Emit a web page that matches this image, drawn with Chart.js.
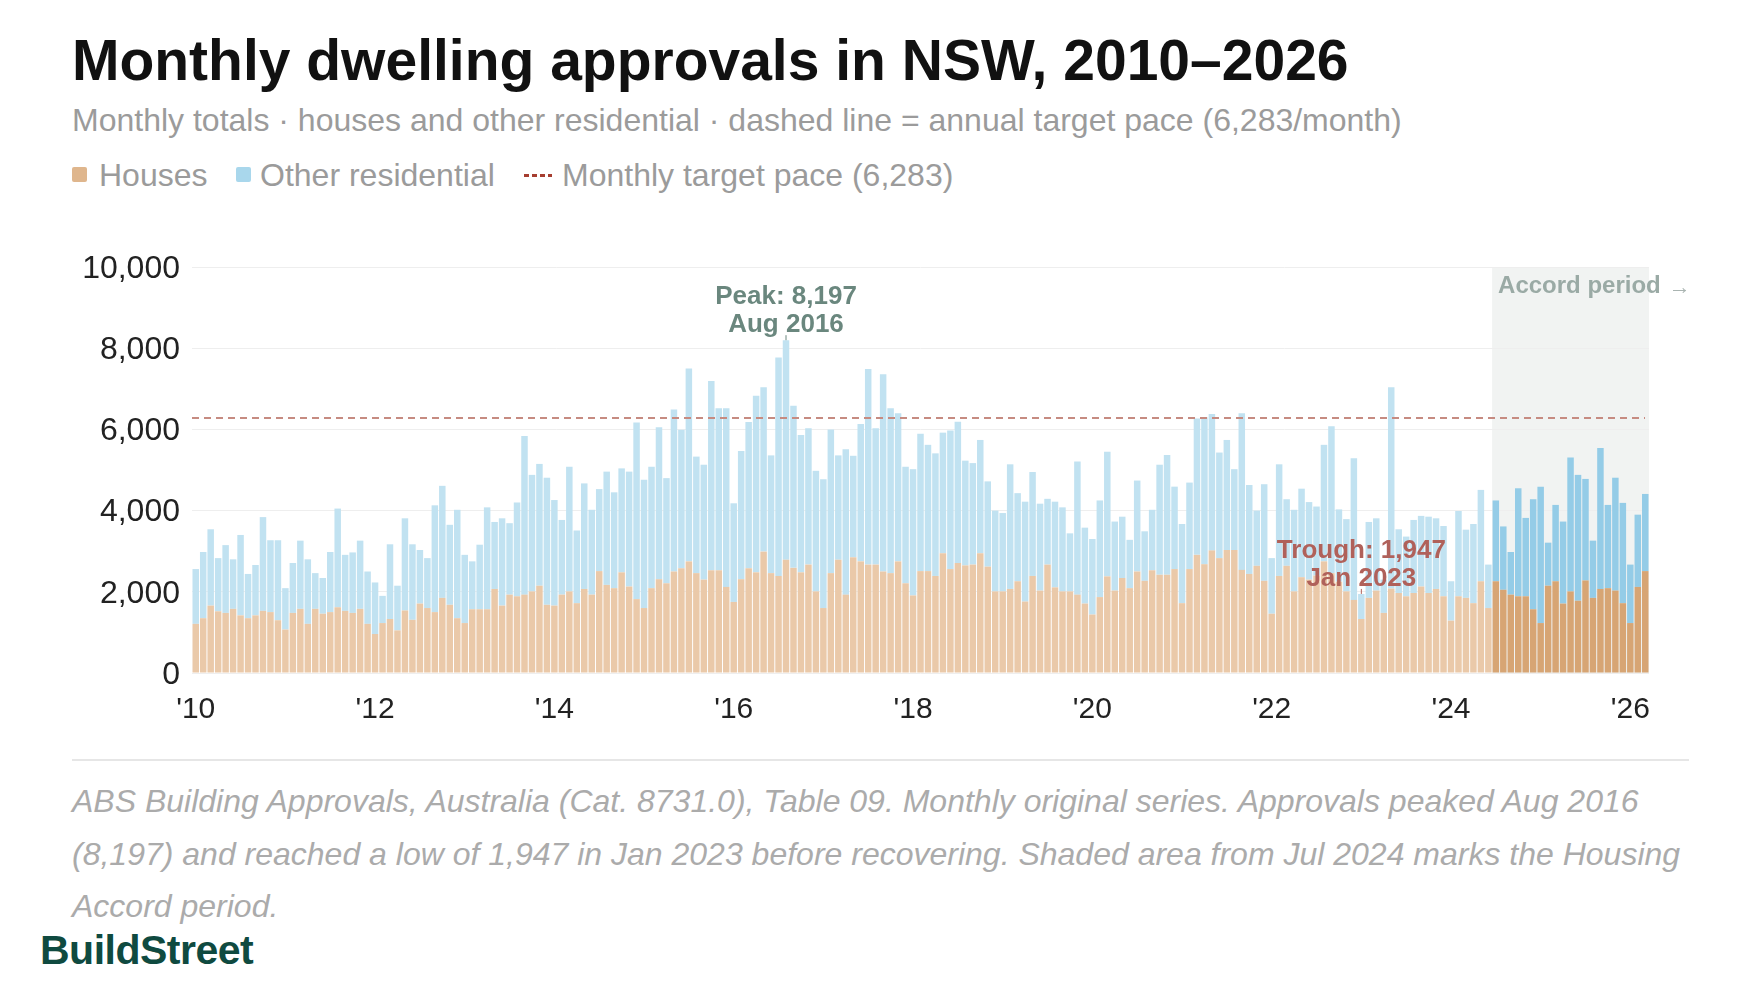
<!DOCTYPE html>
<html lang="en">
<head>
<meta charset="utf-8">
<title>Monthly dwelling approvals in NSW, 2010–2026</title>
<script src="https://cdn.jsdelivr.net/npm/chart.js@4.4.1/dist/chart.umd.min.js"></script>
<style>
  html, body { margin: 0; padding: 0; background: #fff; }
  body { width: 1760px; height: 1000px; position: relative; overflow: hidden;
         font-family: "Liberation Sans", Arial, Helvetica, sans-serif; }
  .title { position: absolute; left: 72px; top: 32px; font-size: 57px; font-weight: bold;
           line-height: 1; color: #111; white-space: nowrap; }
  .subtitle { position: absolute; left: 72px; top: 104px; font-size: 32px; line-height: 1;
              color: #9b9b9b; white-space: nowrap; }
  .legend { position: absolute; left: 0; top: 159px; width: 1760px; height: 34px;
            font-size: 32px; line-height: 1; color: #9b9b9b; }
  .legend span { position: absolute; top: 0; white-space: nowrap; }
  .legend .sw { width: 15px; height: 15px; top: 8px; border-radius: 2px; }
  .legend .dash { width: 28px; height: 3px; top: 15px;
                  background: repeating-linear-gradient(90deg, #a63e30 0 5px, transparent 5px 8px); }
  #chartBox { position: absolute; left: 0; top: 200px; width: 1760px; height: 540px; }
  .rule { position: absolute; left: 72px; top: 759px; width: 1617px; height: 2px; background: #e6e6e6; }
  .note { position: absolute; left: 72px; top: 775px; width: 1618px; font-size: 32px;
          line-height: 52.5px; font-style: italic; color: #ababab; }
  .brand { position: absolute; left: 40px; top: 930px; font-size: 41px; font-weight: bold;
           line-height: 1; color: #0f4a40; letter-spacing: -0.5px; }
</style>
</head>
<body>
<div class="title">Monthly dwelling approvals in NSW, 2010–2026</div>
<div class="subtitle">Monthly totals · houses and other residential · dashed line = annual target pace (6,283/month)</div>
<div class="legend">
  <span class="sw" style="left:72px;background:#dfb68d"></span>
  <span style="left:99px">Houses</span>
  <span class="sw" style="left:236px;background:#a9d7ec"></span>
  <span style="left:260px">Other residential</span>
  <span class="dash" style="left:524px"></span>
  <span style="left:562px">Monthly target pace (6,283)</span>
</div>
<div id="chartBox"><canvas id="approvalsChart"></canvas></div>
<div class="rule"></div>
<div class="note">ABS Building Approvals, Australia (Cat. 8731.0), Table 09. Monthly original series. Approvals peaked Aug 2016 (8,197) and reached a low of 1,947 in Jan 2023 before recovering. Shaded area from Jul 2024 marks the Housing Accord period.</div>
<div class="brand">BuildStreet</div>

<script>
const FONT = '"Liberation Sans", Arial, Helvetica, sans-serif';

// monthly approvals, Jan 2010 - Mar 2026 (one row per year)
const houses = [
  1210,1350,1660,1520,1480,1580,1420,1350,1420,1530,1500,1300,
  1070,1480,1580,1210,1580,1460,1500,1620,1530,1480,1580,1210,
  960,1230,1330,1050,1540,1310,1710,1600,1500,1850,1680,1350,
  1230,1570,1570,1570,2070,1660,1930,1890,1930,2010,2150,1680,
  1660,1930,2010,1720,2070,1930,2510,2170,2090,2480,2130,1820,
  1600,2090,2310,2210,2500,2580,2750,2460,2300,2530,2530,2120,
  1750,2310,2580,2480,2990,2460,2390,2790,2590,2480,2670,2010,
  1600,2460,2790,1930,2850,2750,2670,2670,2500,2460,2750,2210,
  1910,2510,2510,2390,2950,2560,2710,2650,2670,2950,2620,2010,
  2010,2070,2260,1760,2390,2030,2670,2110,2010,2010,1930,1710,
  1440,1870,2380,2030,2340,2090,2500,2270,2530,2420,2420,2560,
  1720,2560,2910,2680,3020,2830,3030,3030,2540,2440,2640,2270,
  1460,2390,2640,2010,2360,2300,2400,2750,2460,2250,2010,1800,
  1330,1850,2030,1480,2080,1970,1890,1970,2130,1970,2070,1890,
  1290,1890,1850,1720,2260,1600,2260,2050,1930,1890,1890,1570,
  1230,2150,2260,1710,2010,1780,2280,1850,2070,2090,2030,1720,
  1230,2120,2510
];

const otherRes = [
  1350,1630,1880,1310,1670,1220,1980,1090,1240,2310,1770,1970,
  1020,1230,1680,1590,880,880,1480,2430,1380,1490,1680,1290,
  1270,670,1840,1100,2270,1860,1320,1230,2630,2760,1970,2670,
  1680,1180,1590,2510,1650,2150,1760,2310,3910,2870,3000,3130,
  2600,1840,3070,1790,2600,2090,2020,2790,2360,2560,2830,4350,
  3160,2990,3740,2590,3990,3410,4750,2870,2830,4660,3990,4400,
  2430,3160,3600,4350,4050,2900,5380,5407,3990,3380,3360,2970,
  3170,3540,2570,3580,2500,3380,4820,3360,4860,4060,3650,2870,
  3110,3380,3110,3020,2970,3410,3480,2580,2500,2790,2100,1990,
  1930,3070,2170,2460,2560,2140,1620,2110,2070,1430,3280,1870,
  1860,2380,3070,1700,1510,1190,2240,1220,1490,2710,2950,2030,
  1950,2130,3360,3620,3360,2600,2710,1990,3860,2190,1360,2380,
  1370,2750,1640,2010,2180,1910,1700,2870,3620,1780,1780,3490,
  617,1870,1780,820,4960,1570,1470,1800,1740,1880,1740,1730,
  970,2100,1680,1950,2250,1070,1990,1560,1050,2660,1930,2710,
  3360,1060,1880,2020,3300,3100,2500,1410,3470,2050,2780,2470,
  1440,1780,1900
];

const startYear = 2010;
const targetPace = 6283;
const accordStart = '2024-07';

const tickMonths = ['2010-01','2012-01','2014-01','2016-01','2018-01','2020-01','2022-01','2024-01','2026-01'];
const tickLabels = ["'10","'12","'14","'16","'18","'20","'22","'24","'26"];
const yTicks = [0, 2000, 4000, 6000, 8000, 10000];

const noteMonths = ['2016-08', '2023-01'];
const noteLines = [['Peak: 8,197', 'Aug 2016'], ['Trough: 1,947', 'Jan 2023']];
const noteColors = ['#6a877e', '#b0615a'];

//build the month categories
const months = [];
for (let i = 0; i < houses.length; i++) {
    const yr = startYear + Math.floor(i / 12);
    const mo = (i % 12) + 1;
    months.push(yr + '-' + String(mo).padStart(2, '0'));
}

const accordIdx = months.indexOf(accordStart);
const houseColors = months.map((m, i) => i >= accordIdx ? '#d7a574' : '#eac9a9');
const otherColors = months.map((m, i) => i >= accordIdx ? '#94cce7' : '#c1e2f1');

//light panel behind the Accord months
const accordShade = {
    id: 'accordShade',
    beforeDraw(chart) {
        const { ctx, chartArea, scales: { x } } = chart;
        const half = (x.getPixelForValue(1) - x.getPixelForValue(0)) / 2;
        const left = x.getPixelForValue(accordIdx) - half;
        ctx.save();
        ctx.fillStyle = '#f1f3f2';
        ctx.fillRect(left, chartArea.top, chartArea.right - left, chartArea.bottom - chartArea.top);
        ctx.restore();
    }
};

//target line, peak/trough notes and the Accord label
const overlays = {
    id: 'overlays',
    afterDatasetsDraw(chart) {
        const { ctx, chartArea, scales: { x, y } } = chart;
        ctx.save();

        const ty = y.getPixelForValue(targetPace);
        ctx.strokeStyle = '#c68b81';
        ctx.lineWidth = 2;
        ctx.setLineDash([7, 5]);
        ctx.beginPath();
        ctx.moveTo(chartArea.left, ty);
        ctx.lineTo(chartArea.right - 4, ty);
        ctx.stroke();
        ctx.setLineDash([]);

        noteMonths.forEach((m, k) => {
            const i = months.indexOf(m);
            const px = x.getPixelForValue(i);
            const top = y.getPixelForValue(houses[i] + otherRes[i]);
            ctx.fillStyle = noteColors[k];
            ctx.strokeStyle = noteColors[k];
            ctx.font = 'bold 26px ' + FONT;
            ctx.textAlign = 'center';
            ctx.textBaseline = 'middle';
            ctx.fillText(noteLines[k][0], px, top - 43);
            ctx.fillText(noteLines[k][1], px, top - 15);
            ctx.lineWidth = 1;
            ctx.beginPath();
            ctx.moveTo(px, top - 5);
            ctx.lineTo(px, top);
            ctx.stroke();
        });

        const half = (x.getPixelForValue(1) - x.getPixelForValue(0)) / 2;
        const lx = x.getPixelForValue(accordIdx) - half + 6;
        const ly = chartArea.top + 19;
        ctx.textAlign = 'left';
        ctx.textBaseline = 'middle';
        ctx.font = 'bold 24px ' + FONT;
        ctx.fillStyle = '#9aaaa5';
        ctx.fillText('Accord period', lx, ly);
        const w = ctx.measureText('Accord period').width;
        ctx.font = '22px ' + FONT;
        ctx.fillStyle = '#a9b4b1';
        ctx.fillText('→', lx + w + 8, ly + 2);

        ctx.restore();
    }
};

const ctx = document.getElementById('approvalsChart').getContext('2d');
new Chart(ctx, {
    type: 'bar',
    data: {
        labels: months,
        datasets: [
            { label: 'Houses', data: houses, backgroundColor: houseColors },
            { label: 'Other residential', data: otherRes, backgroundColor: otherColors }
        ]
    },
    options: {
        responsive: true,
        maintainAspectRatio: false,
        animation: false,
        layout: { padding: { left: 0, right: 111, top: 67, bottom: 0 } },
        datasets: { bar: { barPercentage: 0.87, categoryPercentage: 1.0, borderWidth: 0 } },
        scales: {
            x: {
                stacked: true,
                grid: { display: false },
                border: { display: false },
                ticks: {
                    autoSkip: false,
                    maxRotation: 0,
                    minRotation: 0,
                    padding: 11,
                    color: '#222',
                    font: { size: 30, family: FONT },
                    callback: function(value, index) {
                        const k = tickMonths.indexOf(months[index]);
                        return k >= 0 ? tickLabels[k] : null;
                    }
                },
                afterFit: function(axis) { axis.height = 67; }
            },
            y: {
                stacked: true,
                min: 0,
                max: 10000,
                grid: { color: '#eeeeee', drawTicks: false },
                border: { display: false },
                afterBuildTicks: function(axis) { axis.ticks = yTicks.map(v => ({ value: v })); },
                ticks: {
                    padding: 12,
                    labelOffset: 2,
                    color: '#222',
                    font: { size: 32, family: FONT },
                    callback: v => v.toLocaleString('en-US')
                },
                afterFit: function(axis) { axis.width = 192; }
            }
        },
        plugins: {
            legend: { display: false },
            tooltip: { enabled: false }
        }
    },
    plugins: [accordShade, overlays]
});
</script>
</body>
</html>
